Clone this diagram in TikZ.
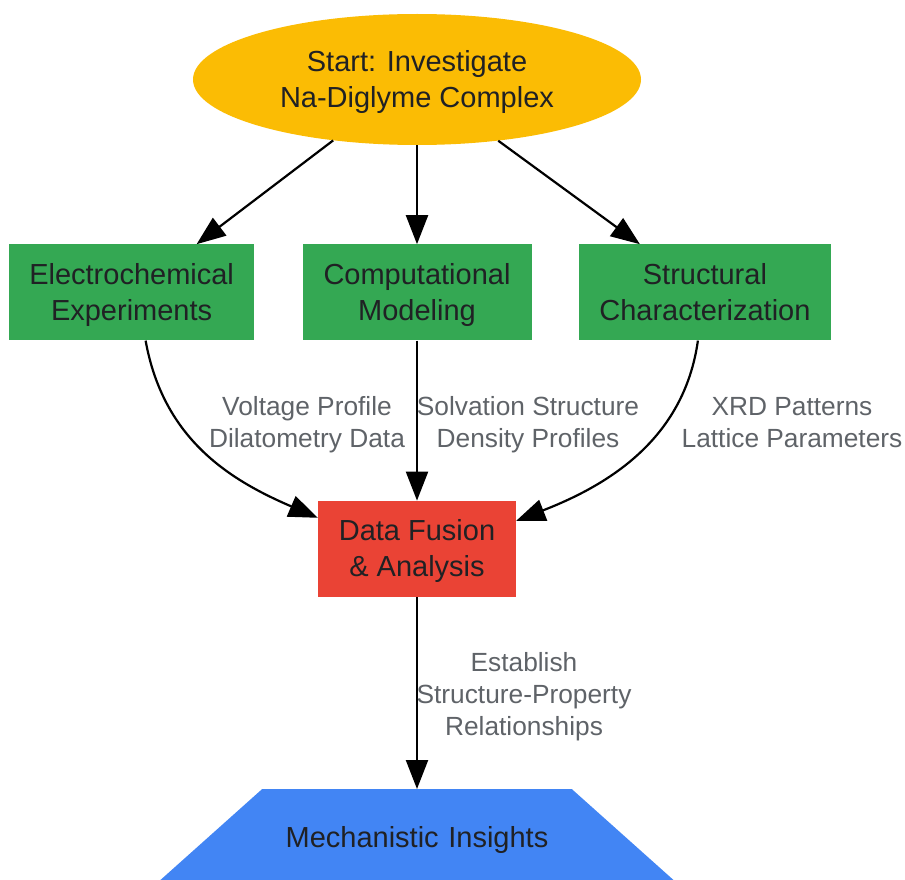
\documentclass[tikz,border=0pt]{standalone}
\usepackage{fontspec}
\setmainfont{Liberation Sans}
\usetikzlibrary{shapes.geometric, arrows.meta, positioning}
\definecolor{startcolor}{RGB}{251, 188, 4}
\definecolor{branchcolor}{RGB}{52, 168, 83}
\definecolor{fusioncolor}{RGB}{234, 67, 53}
\definecolor{insightcolor}{RGB}{66, 133, 244}
\definecolor{textcolor}{RGB}{32, 33, 36}
\definecolor{labelcolor}{RGB}{95, 99, 104}
\tikzset{
    boxfont/.style = {font=\fontsize{29}{36}\selectfont, text=textcolor},
    twolines/.style = {text height=64pt, text depth=8pt},
    startstop/.style = {
        ellipse, minimum width=448pt, minimum height=131pt, inner sep=0pt,
        align=center, fill=startcolor, boxfont, twolines
    },
    block/.style = {
        rectangle, minimum height=96pt, inner sep=0pt, align=center,
        fill=branchcolor, boxfont, twolines
    },
    fusionblock/.style = {block, minimum width=198pt, fill=fusioncolor},
    insightblock/.style = {
        trapezium, trapezium left angle=41.8, trapezium right angle=41.8,
        text width=310pt, text height=28pt, text depth=8pt,
        inner xsep=0pt, inner ysep=30pt, align=center, fill=insightcolor, boxfont
    },
    edgelabel/.style = {
        align=center, text=labelcolor, font=\fontsize{26.3}{32}\selectfont,
        text height=57.1pt, text depth=6.9pt
    },
    arrow/.style = {-{Triangle[length=29pt,width=22pt]}, line width=2.2pt, draw=black}
}
\begin{document}
\begin{tikzpicture}
\useasboundingbox (0,0) rectangle (905pt,-880pt);
% Nodes
\node[startstop] (start) at (417pt,-79.5pt) {Start: Investigate\\Na-Diglyme Complex};
\node[block, minimum width=229pt, below=99pt of start] (comp) {Computational\\Modeling};
\node[block, minimum width=245pt, left=48pt of comp] (elec) {Electrochemical\\Experiments};
\node[block, minimum width=252pt, right=47pt of comp] (struct) {Structural\\Characterization};
\node[fusionblock, below=160pt of comp] (fusion) {Data Fusion\\\& Analysis};
\node[insightblock, below=192pt of fusion] (insight) {Mechanistic Insights};
% Arrows
\draw[arrow] (start.216.6) -- ([xshift=65pt]elec.north);
\draw[arrow] (start.south) -- (comp.north);
\draw[arrow] (start.323.6) -- ([xshift=-65pt]struct.north);
\draw[arrow] ([xshift=14pt]elec.south) .. controls +(18pt,-100pt) and +(-86pt,37pt) .. ([yshift=31pt]fusion.west);
\draw[arrow] (comp.south) -- (fusion.north);
\draw[arrow] ([xshift=-7pt]struct.south) .. controls +(-14pt,-100pt) and +(90pt,35pt) .. ([yshift=28pt]fusion.east);
\draw[arrow] (fusion.south) -- (insight.north);
% Labels
\node[edgelabel] (voltlabel) at (307pt,-422pt) {Voltage Profile\\Dilatometry Data};
\node[edgelabel] (solvlabel) at (528pt,-422pt) {Solvation Structure\\Density Profiles};
\node[edgelabel] (xrdlabel) at (792pt,-422pt) {XRD Patterns\\Lattice Parameters};
\node[edgelabel, text height=89.1pt] (relabel) at (524pt,-694pt) {Establish\\Structure-Property\\Relationships};
\end{tikzpicture}
\end{document}
